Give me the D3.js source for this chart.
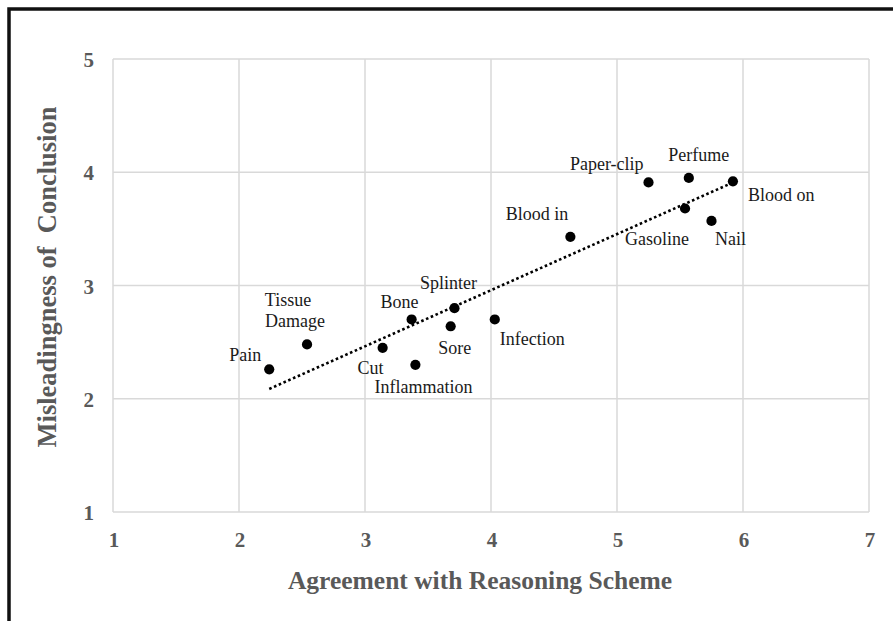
<!DOCTYPE html>
<html>
<head>
<meta charset="utf-8">
<script src="https://cdn.jsdelivr.net/npm/d3@7"></script>
<style>
  body { margin: 0; background: #fff; }
  svg { display: block; }
</style>
</head>
<body>
<div id="chart"></div>
<script>
// data
const items = ["Pain", "Tissue Damage", "Cut", "Inflammation", "Bone", "Splinter", "Sore",
    "Infection", "Blood in", "Paper-clip", "Perfume", "Blood on", "Gasoline", "Nail"];
const agreement = [2.24, 2.54, 3.14, 3.40, 3.37, 3.71, 3.68, 4.03, 4.63, 5.25, 5.57, 5.92, 5.54, 5.75];
const misleading = [2.26, 2.48, 2.45, 2.30, 2.70, 2.80, 2.64, 2.70, 3.43, 3.91, 3.95, 3.92, 3.68, 3.57];
const xTicks = [1, 2, 3, 4, 5, 6, 7];
const yTicks = [1, 2, 3, 4, 5];

// label placement (dx, dy from the dot, anchor)
const labelPos = [
    [-8, -8, "end"], [-19, -38, "middle"], [1, 26, "end"], [8, 28, "middle"],
    [-12, -11, "middle"], [-6, -19, "middle"], [4, 28, "middle"], [5, 26, "start"],
    [-2, -17, "end"], [-5, -12, "end"], [10, -17, "middle"], [15, 20, "start"],
    [-28, 37, "middle"], [19, 24, "middle"]
];

const width = 893, height = 621;
const margin = { top: 59, right: 24, bottom: 109, left: 113 };

const svg = d3.select("#chart").append("svg")
    .attr("width", width)
    .attr("height", height);

// outer frame
svg.append("rect")
    .attr("x", 9).attr("y", 9)
    .attr("width", 2000).attr("height", 2000)
    .attr("fill", "none")
    .attr("stroke", "#111")
    .attr("stroke-width", 3.5);

const x = d3.scaleLinear().domain([1, 7]).range([margin.left, width - margin.right]);
const y = d3.scaleLinear().domain([1, 5]).range([height - margin.bottom, margin.top]);

// gridlines
svg.append("g").selectAll("line.vx")
    .data(xTicks).enter().append("line")
    .attr("x1", d => x(d)).attr("x2", d => x(d))
    .attr("y1", y(5)).attr("y2", y(1))
    .attr("stroke", "#d9d9d9").attr("stroke-width", 1.5);

svg.append("g").selectAll("line.hy")
    .data(yTicks).enter().append("line")
    .attr("y1", d => y(d)).attr("y2", d => y(d))
    .attr("x1", x(1)).attr("x2", x(7))
    .attr("stroke", "#d9d9d9").attr("stroke-width", 1.5);

// tick labels
svg.append("g").selectAll("text")
    .data(xTicks).enter().append("text")
    .attr("x", d => x(d) + 1)
    .attr("y", y(1) + 35)
    .attr("text-anchor", "middle")
    .style("font-family", "'Liberation Serif', 'Times New Roman', serif")
    .style("font-weight", "bold")
    .style("font-size", "21px")
    .attr("fill", "#595959")
    .text(d => d);

svg.append("g").selectAll("text")
    .data(yTicks).enter().append("text")
    .attr("x", 94)
    .attr("y", d => y(d) + 8)
    .attr("text-anchor", "end")
    .style("font-family", "'Liberation Serif', 'Times New Roman', serif")
    .style("font-weight", "bold")
    .style("font-size", "21px")
    .attr("fill", "#595959")
    .text(d => d);

// axis titles
svg.append("text")
    .attr("x", 480)
    .attr("y", 589)
    .attr("text-anchor", "middle")
    .style("font-family", "'Liberation Serif', 'Times New Roman', serif")
    .style("font-weight", "bold")
    .style("font-size", "25.5px")
    .attr("fill", "#595959")
    .text("Agreement with Reasoning Scheme");

svg.append("text")
    .attr("transform", "translate(56," + 277 + ") rotate(-90)")
    .attr("text-anchor", "middle")
    .style("font-family", "'Liberation Serif', 'Times New Roman', serif")
    .style("font-weight", "bold")
    .style("font-size", "26.5px")
    .style("white-space", "pre")
    .attr("fill", "#595959")
    .text("Misleadingness of  Conclusion");

// linear trendline (least squares over the points)
const mx = d3.mean(agreement), my = d3.mean(misleading);
const slope = d3.sum(agreement, (v, i) => (v - mx) * (misleading[i] - my)) /
    d3.sum(agreement, v => (v - mx) * (v - mx));
const icpt = my - slope * mx;
const xs = d3.extent(agreement);

svg.append("line")
    .attr("x1", x(xs[0])).attr("y1", y(icpt + slope * xs[0]))
    .attr("x2", x(xs[1])).attr("y2", y(icpt + slope * xs[1]))
    .attr("stroke", "#000")
    .attr("stroke-width", 2.6)
    .attr("stroke-dasharray", "2.6,2.6");

// points
const pts = items.map((name, i) => ({ name: name, ax: agreement[i], my: misleading[i], pos: labelPos[i] }));

svg.append("g").selectAll("circle")
    .data(pts).enter().append("circle")
    .attr("cx", d => x(d.ax))
    .attr("cy", d => y(d.my))
    .attr("r", 5.1)
    .attr("fill", "#000");

// point labels
const lab = svg.append("g").selectAll("text")
    .data(pts).enter().append("text")
    .attr("x", d => x(d.ax) + d.pos[0])
    .attr("y", d => y(d.my) + d.pos[1])
    .attr("text-anchor", d => d.pos[2])
    .style("font-family", "'Liberation Serif', 'Times New Roman', serif")
    .style("font-size", "18px")
    .attr("fill", "#1a1a1a");

lab.each(function (d) {
    const words = d.name === "Tissue Damage" ? ["Tissue", "Damage"] : [d.name];
    const t = d3.select(this);
    words.forEach((w, k) => {
        t.append("tspan")
            .attr("x", x(d.ax) + d.pos[0] + (k === 1 ? 7 : 0))
            .attr("dy", k === 0 ? 0 : 21)
            .text(w);
    });
});
</script>
</body>
</html>
